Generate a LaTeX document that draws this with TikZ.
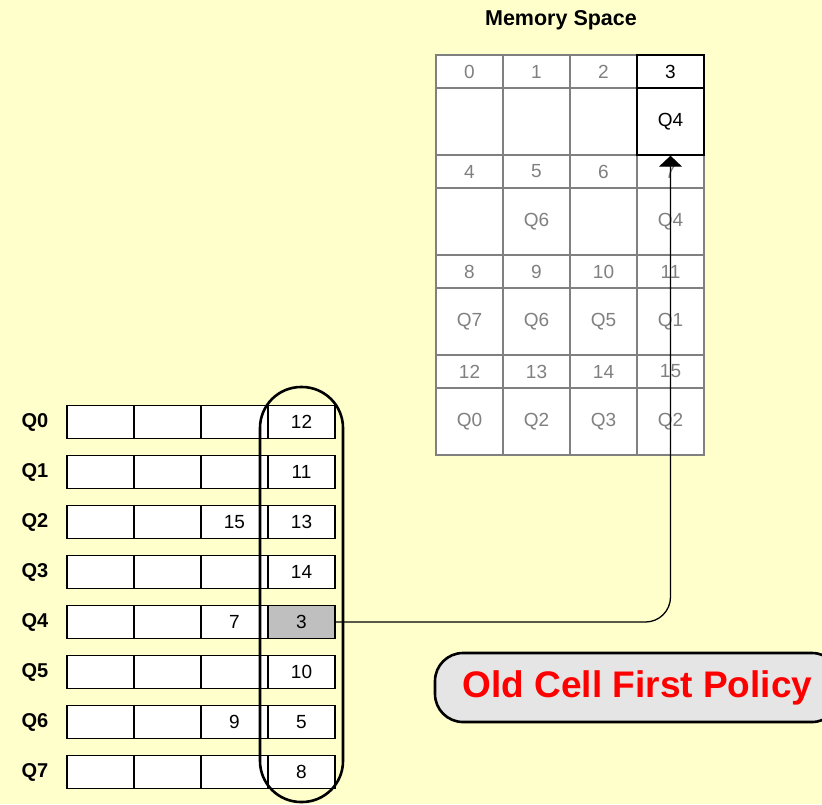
\documentclass[tikz,border=0pt]{standalone}
\usepackage{fontspec}
\setmainfont{Liberation Sans}
\usetikzlibrary{arrows.meta}
\definecolor{bgyellow}{HTML}{FFFFCC}
\begin{document}
\begin{tikzpicture}[x=1pt, y=-1pt, >=Triangle,
    memcell/.style={draw=gray, line width=1.4pt, fill=white, inner sep=0pt,
      minimum width=67pt, font=\fontsize{19}{22}\selectfont, text=gray},
    qcell/.style={draw=black, line width=1.3pt, fill=white, inner sep=0pt,
      minimum width=67pt, minimum height=33pt, font=\fontsize{19}{22}\selectfont},
    qlabel/.style={font=\fontsize{20}{24}\selectfont\bfseries}]

  % --- 0. 背景 ---
  \fill[bgyellow] (0,0) rectangle (822,804);
  \useasboundingbox (0,0) rectangle (822,804);
  \clip (0,0) rectangle (822,804);

  % --- 1. Memory Space (4 x 4 セル) ---
  \node[font=\fontsize{21.5}{26}\selectfont\bfseries] (title) at (561,20) {Memory Space};
  \foreach \r/\la/\lb/\lc/\ld in {0/{}/{}/{}/Q4, 1/{}/Q6/{}/Q4, 2/Q7/Q6/Q5/Q1, 3/Q0/Q2/Q3/Q2} {
    \foreach \c/\q in {0/\la, 1/\lb, 2/\lc, 3/\ld} {
      \pgfmathtruncatemacro{\n}{4*\r+\c}
      \node[memcell, minimum height=33pt] (h\n) at ({469.5+67*\c},{71.5+100*\r}) {\n};
      \node[memcell, minimum height=67pt] (b\n) at ({469.5+67*\c},{121.5+100*\r}) {\q};
    }
  }
  % セル 3 (Q4) を太枠で強調
  \node[memcell, minimum height=33pt, draw=black, line width=2.6pt, text=black] at (h3) {3};
  \node[memcell, minimum height=67pt, draw=black, line width=2.6pt, text=black] at (b3) {Q4};

  % --- 2. キュー Q0 -- Q7 ---
  \foreach \r/\va/\vb in {0/{}/12, 1/{}/11, 2/15/13, 3/{}/14, 4/7/3, 5/{}/10, 6/9/5, 7/{}/8} {
    \node[qlabel] (lab\r) at (35,{422+50*\r}) {Q\r};
    \node[qcell] (q\r c1) at (100.5,{422+50*\r}) {};
    \node[qcell] (q\r c2) at (167.5,{422+50*\r}) {};
    \node[qcell] (q\r c3) at (234.5,{422+50*\r}) {\va};
    \node[qcell] (q\r c4) at (301.5,{422+50*\r}) {\vb};
  }
  % Q4 の先頭セル (灰色)
  \node[qcell, fill=gray!50] at (q4c4) {3};

  % --- 3. 先頭セルを囲む長円 ---
  \draw[line width=2.6pt, rounded corners=41pt] (260,387) rectangle (343,802);

  % --- 4. セル 3 への矢印 ---
  \draw[->, line width=1.3pt, rounded corners=25pt,
        arrows={-Triangle[width=23pt, length=11pt]}] (q4c4.east) -| (b3.south);

  % --- 5. ポリシー名 ---
  \node[draw=black, line width=2.6pt, fill=gray!20, rounded corners=28pt,
        minimum width=405pt, minimum height=69pt, text=red,
        font=\fontsize{37}{44}\selectfont\bfseries] (policy) at (637.5,687.5) {Old Cell First Policy};

\end{tikzpicture}
\end{document}
